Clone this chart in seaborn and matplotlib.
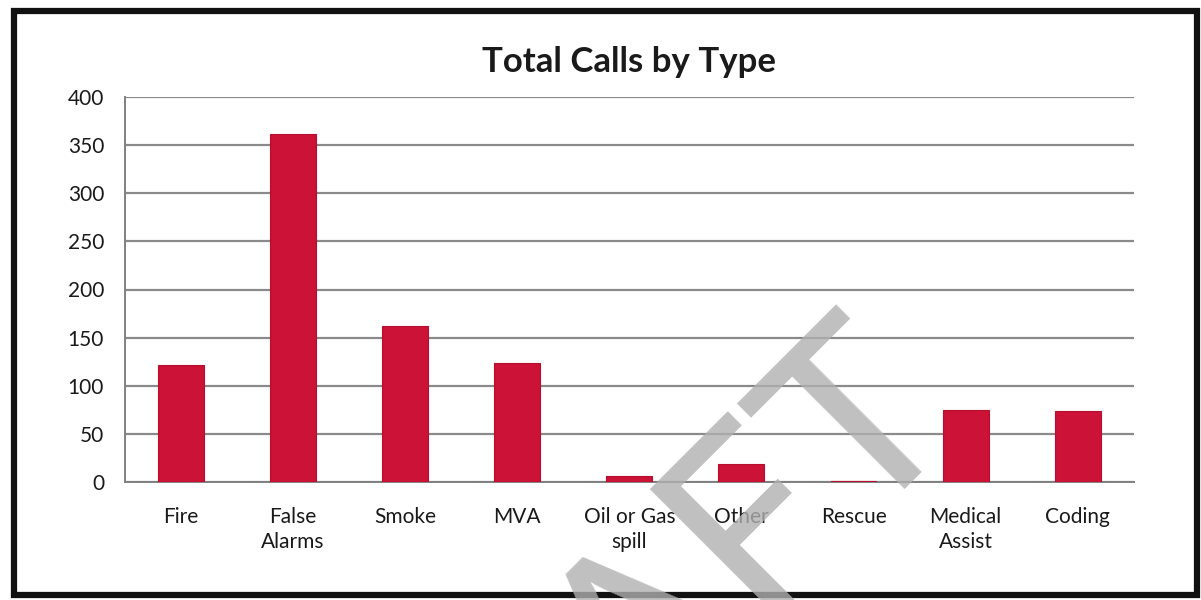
import numpy as np
import pandas as pd
import seaborn as sns
import matplotlib.pyplot as plt
from matplotlib.patches import Rectangle
from matplotlib.ticker import FixedLocator

categories = ["Fire", "False\nAlarms", "Smoke", "MVA", "Oil or Gas\nspill",
              "Other", "Rescue", "Medical\nAssist", "Coding"]
calls = [121, 362, 162, 124, 6, 18, 1, 75, 74]
y_ticks = [0, 50, 100, 150, 200, 250, 300, 350, 400]

sns.set_theme(style="white")
plt.rcParams['font.family'] = ['Lato', 'DejaVu Sans']

data = pd.DataFrame({"type": categories, "calls": calls})

fig = plt.figure(figsize=(12.01, 6.0), dpi=100)
ax = fig.add_axes([0.104, 0.197, 0.84, 0.641])

sns.barplot(data=data, x="type", y="calls", color="#cc1236", saturation=1.0,
            width=0.41, edgecolor="#b50f2f", linewidth=0.8, ax=ax, zorder=3)

ax.set_ylim(0, 400)
ax.set_xlim(-0.5, len(categories) - 0.5)
ax.set_yticks(y_ticks)
ax.set_yticklabels([str(v) for v in y_ticks], fontsize=15, color="#1a1a1a")
ax.set_xticks(range(len(categories)))
ax.set_xticklabels(categories, fontsize=15, color="#1a1a1a", linespacing=1.3)
ax.xaxis.set_minor_locator(FixedLocator(np.arange(-0.5, len(categories), 1.0)))
ax.tick_params(axis='x', which='major', length=0, pad=18)
ax.tick_params(axis='x', which='minor', length=6, width=1.2, color="#777777", direction='out')
ax.tick_params(axis='y', length=7, width=1.2, color="#777777", direction='out', pad=8)
ax.set_xlabel('')
ax.set_ylabel('')

ax.yaxis.grid(True, color="#8a8a8a", linewidth=1.6)
ax.set_axisbelow(True)
for side in ['top', 'right']:
    ax.spines[side].set_visible(False)
for side in ['left', 'bottom']:
    ax.spines[side].set_color("#808080")
    ax.spines[side].set_linewidth(1.4)

ax.set_title("Total Calls by Type", fontsize=25, fontweight='bold', color="#1a1a1a", pad=18)

# outer frame
fig.patches.append(Rectangle((0.012, 0.008), 0.985, 0.973, transform=fig.transFigure,
                             fill=False, edgecolor="#111111", linewidth=4.5))

# watermark (cut by the figure edge, as in the scan)
fig.text(0.562, -0.16, "DRAFT", rotation=45, rotation_mode='anchor',
         ha='center', va='baseline', fontsize=180, color="#b0b0b0", alpha=0.8,
         zorder=10)

fig.savefig("out.png", dpi=100)
